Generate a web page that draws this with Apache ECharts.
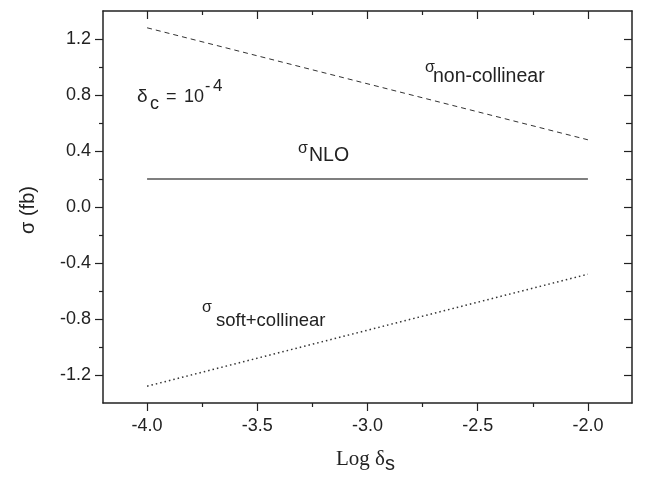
<!DOCTYPE html>
<html>
<head>
<meta charset="utf-8">
<script src="https://cdn.jsdelivr.net/npm/echarts@6/dist/echarts.min.js"></script>
<style>
  html, body { margin: 0; padding: 0; background: #fff; }
  #chart { width: 646px; height: 477px; }
</style>
</head>
<body>
<div id="chart"></div>
<script>
// data
const xEnds = [-4.0, -2.0];
const nonCollinear = [1.28, 0.48];
const nlo = [0.2, 0.2];
const softCollinear = [-1.28, -0.48];

// tick positions
const xMajor = [-4.0, -3.5, -3.0, -2.5, -2.0];
const xMinor = [-3.75, -3.25, -2.75, -2.25];
const yMajor = [-1.2, -0.8, -0.4, 0.0, 0.4, 0.8, 1.2];
const yMinor = [-1.0, -0.6, -0.2, 0.2, 0.6, 1.0];

const ink = '#222';
const sans = 'Liberation Sans, Arial, sans-serif';
const serif = 'Liberation Serif, Times New Roman, serif';

function makeAxis(position, min, max, ticks, len, inside, withLabels, withLine) {
  return {
    type: 'value',
    position: position,
    min: min,
    max: max,
    splitLine: { show: false },
    axisLine: { show: withLine, onZero: false, lineStyle: { color: ink, width: 1.5 } },
    axisTick: { show: true, customValues: ticks, length: len, inside: inside, lineStyle: { color: ink, width: 1.2 } },
    axisLabel: {
      show: withLabels,
      customValues: ticks,
      formatter: v => v.toFixed(1),
      color: ink,
      fontFamily: sans,
      fontSize: 18,
      margin: (position === 'bottom') ? 14 : 12
    }
  }
}

function line(data, type, width, color) {
  return {
    type: 'line',
    data: xEnds.map((x, i) => [x, data[i]]),
    showSymbol: false,
    silent: true,
    lineStyle: { type: type, width: width, color: color }
  }
}

// text helper, y given as baseline
function txt(str, x, base, size, family) {
  return {
    type: 'text',
    x: x,
    y: base - 0.33 * size,
    silent: true,
    style: { text: str, fill: ink, font: size + 'px ' + family, verticalAlign: 'middle', align: 'left' }
  }
}

let chart = echarts.init(document.getElementById('chart'));
let option = {
  animation: false,
  backgroundColor: '#fff',
  grid: { left: 103, right: 14, top: 11, bottom: 74 },
  xAxis: [
    makeAxis('bottom', -4.2, -1.8, xMajor, 8, false, true, true),
    makeAxis('bottom', -4.2, -1.8, xMinor, 4, false, false, false),
    makeAxis('top', -4.2, -1.8, xMajor, 8, true, false, true),
    makeAxis('top', -4.2, -1.8, xMinor, 4, true, false, false)
  ],
  yAxis: [
    makeAxis('left', -1.4, 1.4, yMajor, 8, false, true, true),
    makeAxis('left', -1.4, 1.4, yMinor, 4, false, false, false),
    makeAxis('right', -1.4, 1.4, yMajor, 8, true, false, true),
    makeAxis('right', -1.4, 1.4, yMinor, 6, true, false, false)
  ],
  series: [
    line(nonCollinear, [5, 4], 1, '#333'),
    line(nlo, 'solid', 1.5, '#555'),
    line(softCollinear, [1.5, 3], 1.5, '#333')
  ],
  graphic: [
    txt('\u03c3', 425, 73, 16, sans),
    txt('non-collinear', 433, 83, 19.5, sans),
    txt('\u03c3', 298, 154, 16, sans),
    txt('NLO', 309, 162, 19.5, sans),
    txt('\u03c3', 202, 313, 16, sans),
    txt('soft+collinear', 216, 327, 18.5, sans),
    txt('\u03b4', 137, 103, 19, sans),
    txt('c', 150, 110, 18, sans),
    txt('=', 166, 103, 18, sans),
    txt('10', 184, 103, 18, sans),
    txt('-', 205, 92, 16, sans),
    txt('4', 213, 92, 17, sans),
    txt('Log \u03b4', 336, 466, 21, serif),
    txt('s', 385, 471, 20, sans),
    {
      type: 'text',
      x: 28,
      y: 210,
      rotation: Math.PI / 2,
      silent: true,
      style: { text: '\u03c3 (fb)', fill: ink, font: '20px ' + sans, align: 'center', verticalAlign: 'middle' }
    }
  ]
};
chart.setOption(option);
</script>
</body>
</html>
